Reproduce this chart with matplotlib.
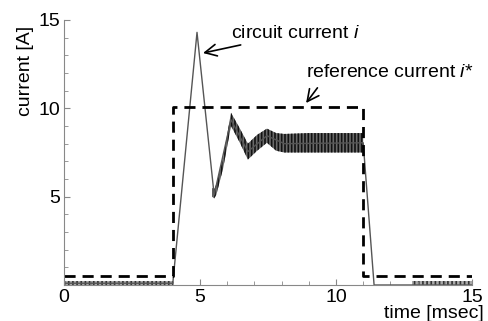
import matplotlib
matplotlib.use('Agg')
import matplotlib.pyplot as plt
from matplotlib.ticker import MultipleLocator

plt.rcParams['font.family'] = ['Liberation Sans', 'DejaVu Sans']
plt.rcParams['mathtext.fontset'] = 'custom'
plt.rcParams['mathtext.it'] = 'Liberation Sans:italic'
plt.rcParams['mathtext.rm'] = 'Liberation Sans'
plt.rcParams['hatch.linewidth'] = 1.2

# reference current i* (step)
ref_t = [0, 4.0, 4.0, 11.0, 11.0, 15]
ref_i = [0.5, 0.5, 10.05, 10.05, 0.5, 0.5]

# circuit current i (centre trace)
cur_t = [0, 4.0, 4.89, 5.52, 6.14, 6.76, 7.46, 8.1, 11.0, 11.4, 15]
cur_i = [0.1, 0.1, 14.3, 5.1, 9.35, 7.55, 8.45, 8.0, 8.05, 0.0, 0.0]

# ripple band around the trace
band_t = [5.45, 5.52, 5.6, 5.85, 6.14, 6.45, 6.76, 7.1, 7.46, 7.8, 8.1, 9.0, 10.0, 11.0]
band_lo = [5.0, 4.9, 5.1, 6.6, 9.0, 8.1, 7.1, 7.6, 8.05, 7.6, 7.5, 7.5, 7.5, 7.5]
band_hi = [5.5, 5.4, 5.7, 7.2, 9.75, 8.9, 8.0, 8.5, 8.85, 8.6, 8.55, 8.6, 8.6, 8.6]

# small ripple while the current is near zero
low1_t = [0, 4.0]
low1_hi = [0.2, 0.2]
low2_t = [12.8, 15]
low2_hi = [0.25, 0.25]

fig = plt.figure(figsize=(4.89, 3.21), dpi=100)
ax = fig.add_axes([64/489, 36/321, 408/489, 265/321])

ax.plot(cur_t, cur_i, color='#555555', lw=1.0)
ax.fill_between(band_t, band_lo, band_hi, facecolor='#6a6a6a', edgecolor='#111111',
                hatch='|||||', lw=0)
ax.fill_between(low1_t, 0, low1_hi, facecolor='#aaaaaa', edgecolor='#333333',
                hatch='||||', lw=0)
ax.fill_between(low2_t, 0, low2_hi, facecolor='#aaaaaa', edgecolor='#333333',
                hatch='||||', lw=0)
ax.plot(ref_t, ref_i, color='black', lw=2.0, ls=(0, (4, 2.5)))

ax.set_xlim(0, 15)
ax.set_ylim(0, 15)
ax.set_xticks([0, 5, 10, 15])
ax.set_yticks([5, 10, 15])
ax.xaxis.set_minor_locator(MultipleLocator(1))
ax.yaxis.set_minor_locator(MultipleLocator(1))
ax.tick_params(which='both', direction='in', color='#888888', labelsize=14, pad=3)
ax.tick_params(which='major', length=4)
ax.tick_params(which='minor', length=3)
for s in ['top', 'right']:
    ax.spines[s].set_visible(False)
for s in ['left', 'bottom']:
    ax.spines[s].set_color('#888888')
    ax.spines[s].set_linewidth(0.8)

arrow = '->,head_length=0.6,head_width=0.3'
ax.annotate('circuit current $\\mathit{i}$', xy=(5.11, 13.13), xytext=(6.15, 14.26),
            fontsize=14, va='center', ha='left',
            arrowprops=dict(arrowstyle=arrow, color='black', lw=1.2, shrinkA=2, shrinkB=0))
ax.annotate('reference current $\\mathit{i}$*', xy=(8.9, 10.3), xytext=(8.9, 12.05),
            fontsize=14, va='center', ha='left',
            arrowprops=dict(arrowstyle=arrow, color='black', lw=1.2, shrinkA=4, shrinkB=0,
                            relpos=(0.1, 0.0)))

fig.text(26/489, 1 - 71/321, 'current [A]', rotation=90, fontsize=14, ha='center', va='center')
fig.text(384/489, 1 - 314/321, 'time [msec]', fontsize=14, ha='left', va='center')

fig.savefig('out.png', dpi=100)
